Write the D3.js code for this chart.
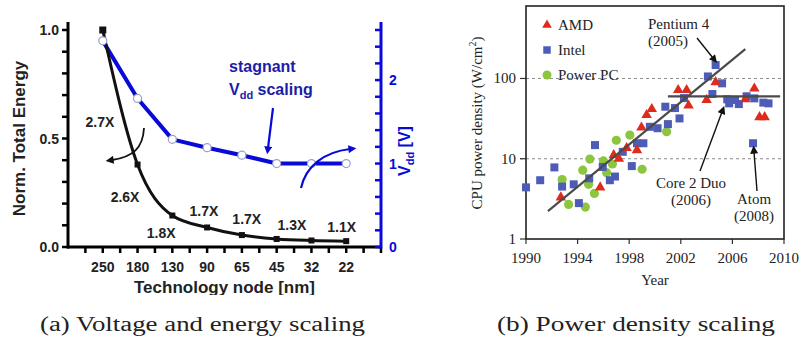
<!DOCTYPE html>
<html>
<head>
<meta charset="utf-8">
<script src="https://cdn.jsdelivr.net/npm/d3@7"></script>
<style>
body { margin: 0; background: #fff; }
svg { display: block; }
</style>
</head>
<body>
<div id="chart"></div>
<script>
// (a) voltage and energy scaling
const nodes = ["250", "180", "130", "90", "65", "45", "32", "22"];
const energy = [1.0, 0.38, 0.145, 0.09, 0.055, 0.037, 0.03, 0.027];
const vdd = [2.47, 1.78, 1.29, 1.19, 1.1, 1.0, 1.0, 1.0];
const ratioLabels = ["2.7X", "2.6X", "1.8X", "1.7X", "1.7X", "1.3X", "1.1X"];
const energyTicks = [0, 0.5, 1.0];
const vddTicks = [0, 1, 2];

// (b) power density scaling, [year, W/cm2]
const amd = [[1992.7, 3.3], [1995.75, 4.4], [1996.8, 11.1], [1997.2, 10], [1997.8, 13.6],
  [1998.6, 12.8], [1998.95, 24.5], [1999.35, 35], [1999.75, 41.6], [2001.8, 71.8],
  [2002.45, 71.8], [2002.6, 46], [2004.0, 54], [2004.7, 90], [2007.0, 55], [2007.7, 75],
  [2008.1, 33], [2008.5, 33]];
const intel = [[1990.0, 4.4], [1991.1, 5.4], [1992.2, 7.8], [1992.8, 4.5], [1993.7, 4.8],
  [1994.1, 2.8], [1994.9, 5.7], [1995.35, 14.8], [1995.95, 7.9], [1996.5, 5.4], [1996.9, 6.0],
  [1997.5, 12.2], [1998.2, 8.1], [1998.6, 15.6], [1999.1, 15.6], [1999.6, 25], [2000.2, 24],
  [2000.8, 44.5], [2001.0, 27], [2001.55, 42.8], [2001.9, 31.8], [2002.25, 57], [2004.1, 106],
  [2004.7, 147], [2005.2, 87], [2004.45, 64], [2005.6, 55], [2005.75, 49], [2006.2, 54],
  [2006.5, 48], [2007.1, 60], [2007.7, 56.5], [2008.4, 50], [2008.8, 49], [2007.6, 15.6]];
const powerPC = [[1992.8, 5.5], [1993.3, 2.7], [1994.4, 7.2], [1994.6, 2.5], [1994.85, 4.8],
  [1994.95, 9.9], [1995.3, 3.7], [1996.0, 9.4], [1996.25, 6.7], [1996.7, 8.6], [1997.0, 17],
  [1998.05, 19.7], [1999.0, 7.4], [2000.9, 21.7]];
const trendRise = [[1991.7, 2.23], [2007.0, 232]];
const trendFlat = [[2001.0, 60], [2009.7, 60]];
const yearTicks = [1990, 1994, 1998, 2002, 2006, 2010];
const densityTicks = [1, 10, 100];

const width = 799, height = 340;
const sans = "'Liberation Sans', Arial, sans-serif";
const serif = "'Liberation Serif', 'Times New Roman', serif";
const blue = "#0a0ad8";
const navy = "#1c1ca6";

const svg = d3.select("#chart").append("svg")
  .attr("width", width).attr("height", height)
  .attr("viewBox", `0 0 ${width} ${height}`);

const defs = svg.append("defs");
[["arrowBlack", "#111"], ["arrowBlue", blue]].forEach(([id, color]) => {
  defs.append("marker")
    .attr("id", id).attr("viewBox", "0 0 10 10")
    .attr("refX", 2).attr("refY", 5)
    .attr("markerWidth", 9).attr("markerHeight", 8)
    .attr("markerUnits", "userSpaceOnUse")
    .attr("orient", "auto")
    .append("path").attr("d", "M0,0 L10,5 L0,10 z").attr("fill", color);
});
defs.append("clipPath").attr("id", "clipA")
  .append("rect").attr("x", 0).attr("y", 0).attr("width", 420).attr("height", 295);

// ---------- panel (a) ----------
const a = svg.append("g").attr("clip-path", "url(#clipA)");
const ax = d3.scalePoint().domain(nodes).range([68, 381]).padding(1);
const step = ax.step();
const ay = d3.scaleLinear().domain([0, 1]).range([247, 30]);
const ay2 = d3.scaleLinear().domain([0, 2.6]).range([247, 30]);

// left axis
a.append("line").attr("x1", 68).attr("x2", 68).attr("y1", 22).attr("y2", 248.5)
  .attr("stroke", "#000").attr("stroke-width", 3);
a.append("g").selectAll("line").data(d3.range(0, 11).map((i) => i / 10)).join("line")
  .attr("x1", 62).attr("x2", 68)
  .attr("y1", (d) => ay(d)).attr("y2", (d) => ay(d))
  .attr("stroke", "#000").attr("stroke-width", 2.5);
a.append("g").selectAll("text").data(energyTicks).join("text")
  .attr("x", 59).attr("y", (d) => ay(d) + 5)
  .attr("text-anchor", "end").attr("font-family", sans).attr("font-weight", 700)
  .attr("font-size", 14).attr("fill", "#222")
  .text((d) => d3.format(".1f")(d));
a.append("text")
  .attr("transform", `translate(25, ${ay(0.5)}) rotate(-90)`)
  .attr("text-anchor", "middle").attr("font-family", sans).attr("font-weight", 700)
  .attr("font-size", 17).attr("fill", "#222").text("Norm. Total Energy");

// bottom axis
a.append("line").attr("x1", 67).attr("x2", 382).attr("y1", 247).attr("y2", 247)
  .attr("stroke", "#000").attr("stroke-width", 3);
a.append("g").selectAll("line").data(d3.range(-1, 17).map((i) => i / 2)).join("line")
  .attr("x1", (d) => ax(nodes[0]) + d * step).attr("x2", (d) => ax(nodes[0]) + d * step)
  .attr("y1", 247).attr("y2", 253)
  .attr("stroke", "#000").attr("stroke-width", 2.5);
a.append("g").selectAll("text").data(nodes).join("text")
  .attr("x", (d) => ax(d)).attr("y", 272)
  .attr("text-anchor", "middle").attr("font-family", sans).attr("font-weight", 700)
  .attr("font-size", 14).attr("fill", "#222").text((d) => d);
a.append("text").attr("x", 224.5).attr("y", 293)
  .attr("text-anchor", "middle").attr("font-family", sans).attr("font-weight", 700)
  .attr("font-size", 17).attr("fill", "#222").text("Technology node [nm]");

// right axis
a.append("line").attr("x1", 381).attr("x2", 381).attr("y1", 22).attr("y2", 248.5)
  .attr("stroke", blue).attr("stroke-width", 3);
a.append("g").selectAll("line").data(d3.range(0, 14).map((i) => i * 0.2)).join("line")
  .attr("x1", 375).attr("x2", 381)
  .attr("y1", (d) => ay2(d)).attr("y2", (d) => ay2(d))
  .attr("stroke", blue).attr("stroke-width", 2.5);
a.append("g").selectAll("text").data(vddTicks).join("text")
  .attr("x", 389).attr("y", (d) => ay2(d) + 5)
  .attr("font-family", sans).attr("font-weight", 700)
  .attr("font-size", 14).attr("fill", blue).text((d) => d);
const vLabel = a.append("text")
  .attr("transform", `translate(410, ${ay2(1.15)}) rotate(-90)`)
  .attr("text-anchor", "middle").attr("font-family", sans).attr("font-weight", 700)
  .attr("font-size", 16).attr("fill", blue);
vLabel.append("tspan").text("V");
vLabel.append("tspan").attr("font-size", 11).attr("dy", 4).text("dd");
vLabel.append("tspan").attr("dy", -4).text(" [V]");

// series
const energyLine = d3.line().x((d, i) => ax(nodes[i])).y((d) => ay(d)).curve(d3.curveMonotoneX);
const vddLine = d3.line().x((d, i) => ax(nodes[i])).y((d) => ay2(d));
a.append("path").attr("d", vddLine(vdd)).attr("fill", "none")
  .attr("stroke", blue).attr("stroke-width", 4).attr("stroke-linejoin", "round");
a.append("path").attr("d", energyLine(energy)).attr("fill", "none")
  .attr("stroke", "#111").attr("stroke-width", 3).attr("stroke-linejoin", "round");
a.append("g").selectAll("rect").data(energy).join("rect")
  .attr("x", (d, i) => ax(nodes[i]) - (i === 0 ? 3.5 : 3))
  .attr("y", (d, i) => ay(d) - (i === 0 ? 3.5 : 3))
  .attr("width", (d, i) => (i === 0 ? 7 : 6)).attr("height", (d, i) => (i === 0 ? 7 : 6))
  .attr("fill", "#111");
a.append("g").selectAll("circle").data(vdd).join("circle")
  .attr("cx", (d, i) => ax(nodes[i])).attr("cy", (d) => ay2(d)).attr("r", 4)
  .attr("fill", "#fff").attr("stroke", "#9aa0c8").attr("stroke-width", 1.2);

// ratio labels: [offset in steps from first node, baseline]
const ratioPlaces = [[-0.08, 127], [0.64, 202], [1.68, 238], [2.91, 216], [4.14, 224], [5.44, 230], [6.87, 232]];
a.append("g").selectAll("text").data(ratioLabels).join("text")
  .attr("x", (d, i) => ax(nodes[0]) + ratioPlaces[i][0] * step)
  .attr("y", (d, i) => ratioPlaces[i][1])
  .attr("text-anchor", "middle").attr("font-family", sans).attr("font-weight", 700)
  .attr("font-size", 14).attr("fill", "#222").text((d) => d);

// annotations
a.append("path").attr("d", "M144,128 C143,148 133,157 112,160")
  .attr("fill", "none").attr("stroke", "#111").attr("stroke-width", 1.8)
  .attr("marker-end", "url(#arrowBlack)");
a.append("path").attr("d", "M301,188 C306,166 324,152 350,149")
  .attr("fill", "none").attr("stroke", blue).attr("stroke-width", 2.2)
  .attr("marker-end", "url(#arrowBlue)");
a.append("path").attr("d", "M273,108 L268,148")
  .attr("fill", "none").attr("stroke", blue).attr("stroke-width", 2.2)
  .attr("marker-end", "url(#arrowBlue)");
a.append("text").attr("x", 229).attr("y", 72)
  .attr("font-family", sans).attr("font-weight", 700).attr("font-size", 16)
  .attr("fill", navy).text("stagnant");
const vs = a.append("text").attr("x", 229).attr("y", 95)
  .attr("font-family", sans).attr("font-weight", 700).attr("font-size", 16).attr("fill", navy);
vs.append("tspan").text("V");
vs.append("tspan").attr("font-size", 11).attr("dy", 4).text("dd");
vs.append("tspan").attr("dy", -4).text(" scaling");

// ---------- panel (b) ----------
const b = svg.append("g");
const bx = d3.scaleLinear().domain([1990, 2010]).range([526, 784]);
const by = d3.scaleLog().domain([1, 800]).range([239, 6]);

b.append("g").selectAll("line").data([10, 100]).join("line")
  .attr("x1", 520).attr("x2", 784).attr("y1", (d) => by(d)).attr("y2", (d) => by(d))
  .attr("stroke", "#8a8a8a").attr("stroke-width", 1).attr("stroke-dasharray", "3,3");
b.append("g").selectAll("line").data(densityTicks).join("line")
  .attr("x1", 520).attr("x2", 526).attr("y1", (d) => by(d)).attr("y2", (d) => by(d))
  .attr("stroke", "#333").attr("stroke-width", 1.2);
b.append("g").selectAll("line").data(yearTicks).join("line")
  .attr("x1", (d) => bx(d)).attr("x2", (d) => bx(d)).attr("y1", 239).attr("y2", 244)
  .attr("stroke", "#333").attr("stroke-width", 1.2);
b.append("rect").attr("x", bx(1990)).attr("y", by(800))
  .attr("width", bx(2010) - bx(1990)).attr("height", by(1) - by(800))
  .attr("fill", "none").attr("stroke", "#222").attr("stroke-width", 1.6);
b.append("g").selectAll("text").data(densityTicks).join("text")
  .attr("x", 516).attr("y", (d) => by(d) + 5)
  .attr("text-anchor", "end").attr("font-family", serif).attr("font-size", 15)
  .attr("fill", "#222").text((d) => d);
b.append("g").selectAll("text").data(yearTicks).join("text")
  .attr("x", (d) => bx(d)).attr("y", 263)
  .attr("text-anchor", "middle").attr("font-family", serif).attr("font-size", 15)
  .attr("fill", "#222").text((d) => d);
b.append("text").attr("x", bx(2000)).attr("y", 285)
  .attr("text-anchor", "middle").attr("font-family", serif).attr("font-size", 15)
  .attr("fill", "#222").text("Year");
const yl = b.append("text")
  .attr("transform", `translate(482, 123) rotate(-90)`)
  .attr("text-anchor", "middle").attr("font-family", serif).attr("font-size", 15)
  .attr("fill", "#222");
yl.append("tspan").text("CPU power density (W/cm");
yl.append("tspan").attr("font-size", 10).attr("dy", -6).text("2");
yl.append("tspan").attr("dy", 6).text(")");

const green = "#8cc63e", slate = "#4d5cb6", red = "#dd2c1c";
const sym = (type, size) => d3.symbol().type(type).size(size)();
b.append("g").selectAll("circle").data(powerPC).join("circle")
  .attr("cx", (d) => bx(d[0])).attr("cy", (d) => by(d[1])).attr("r", 4.6)
  .attr("fill", green);
b.append("g").selectAll("path").data(intel).join("path")
  .attr("d", sym(d3.symbolSquare, 64))
  .attr("transform", (d) => `translate(${bx(d[0])},${by(d[1])})`)
  .attr("fill", slate);
b.append("g").selectAll("path").data(amd).join("path")
  .attr("d", sym(d3.symbolTriangle, 48))
  .attr("transform", (d) => `translate(${bx(d[0])},${by(d[1])})`)
  .attr("fill", red);

const trend = d3.line().x((d) => bx(d[0])).y((d) => by(d[1]));
[trendRise, trendFlat].forEach((t) => {
  b.append("path").attr("d", trend(t)).attr("fill", "none")
    .attr("stroke", "#4a4a4a").attr("stroke-width", 2.2);
});

// legend
const legend = [["AMD", "tri"], ["Intel", "sq"], ["Power PC", "ci"]];
legend.forEach(([label, kind], i) => {
  const ly = 25 + i * 25;
  const g = b.append("g").attr("transform", `translate(547, ${ly})`);
  if (kind === "tri") g.append("path").attr("d", sym(d3.symbolTriangle, 40)).attr("fill", red);
  if (kind === "sq") g.append("path").attr("d", sym(d3.symbolSquare, 56)).attr("fill", slate);
  if (kind === "ci") g.append("circle").attr("r", 4.5).attr("fill", green);
  b.append("text").attr("x", 558).attr("y", ly + 5)
    .attr("font-family", serif).attr("font-size", 15).attr("fill", "#222").text(label);
});

// callouts
const callouts = [
  { lines: ["Pentium 4", "(2005)"], x: 648, y: 29, anchor: "start", from: [697, 38], to: [713, 58] },
  { lines: ["Core 2 Duo", "(2006)"], x: 691, y: 188, anchor: "middle", from: [700, 171], to: [722, 112] },
  { lines: ["Atom", "(2008)"], x: 754, y: 204, anchor: "middle", from: [757, 191], to: [754, 152] },
];
callouts.forEach((c) => {
  c.lines.forEach((line, i) => {
    b.append("text").attr("x", c.x).attr("y", c.y + i * 17)
      .attr("text-anchor", c.anchor).attr("font-family", serif).attr("font-size", 15)
      .attr("fill", "#222").text(line);
  });
  b.append("line").attr("x1", c.from[0]).attr("y1", c.from[1])
    .attr("x2", c.to[0]).attr("y2", c.to[1])
    .attr("stroke", "#111").attr("stroke-width", 1.4)
    .attr("marker-end", "url(#arrowBlack)");
});

// captions
[["(a) Voltage and energy scaling", 40, 325], ["(b) Power density scaling", 497, 278]].forEach(([t, x, w]) => {
  svg.append("text").attr("x", x).attr("y", 331)
    .attr("font-family", serif).attr("font-size", 20).attr("fill", "#222")
    .attr("textLength", w).attr("lengthAdjust", "spacingAndGlyphs").text(t);
});
</script>
</body>
</html>
